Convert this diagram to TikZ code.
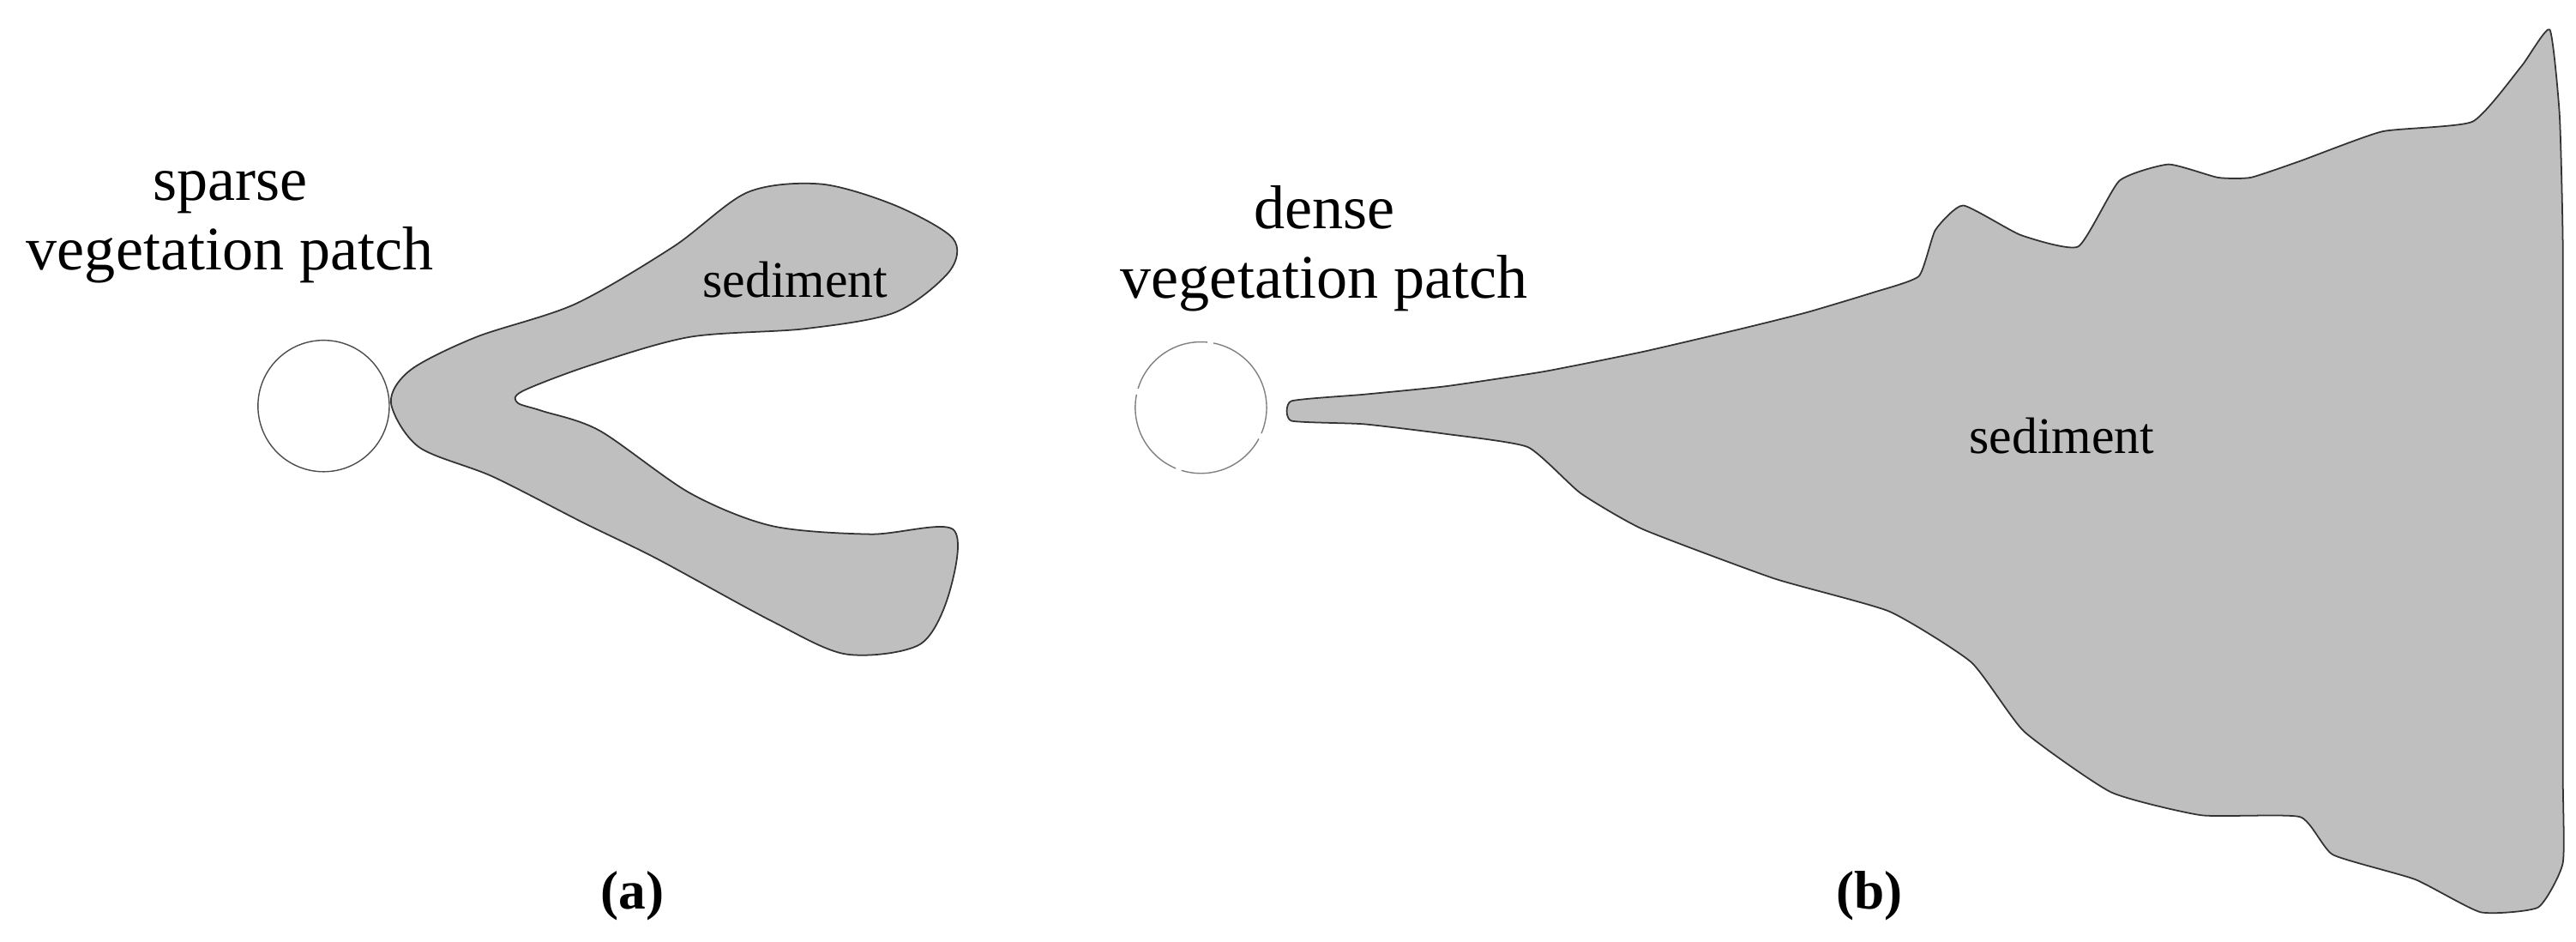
\documentclass[tikz,border=0pt]{standalone}
\usepackage{fontspec}
\setmainfont{Liberation Serif}
\begin{document}
\begin{tikzpicture}[x=0.01913cm,y=-0.01913cm,
 lbl/.style={font=\fontsize{20.5}{23}\selectfont,align=center},
 sed/.style={font=\fontsize{17}{19}\selectfont},
 captxt/.style={font=\bfseries\fontsize{18}{20}\selectfont},
 sedfill/.style={fill=black!25,draw=black!80,line width=0.5pt}]
\useasboundingbox (0,0) rectangle (1568,573);
% (a)
\node[circle,draw=black!70,inner sep=0pt,minimum size=1.53cm] (pa) at (197,247) {};
\draw[sedfill] plot[smooth cycle,tension=0.5] coordinates{
 (238,245) (250,225) (290,205) (350,185) (410,150) (455,117) (500,112) (545,125) (580,145)
 (578,165) (545,190) (490,200) (420,205) (360,222) (318,238) (315,245) (330,250) (365,262)
 (420,300) (470,320) (530,325) (580,322) (578,360) (560,392) (515,398) (470,378) (400,340)
 (355,318) (300,290) (255,272)};
\node[sed] (sa) at (484,170) {sediment};
\node[lbl] (ta) at (140,138) {sparse\\vegetation patch};
\node[captxt] (ca) at (385,545) {(a)};
% (b)
\node[circle,draw=black!50,dashed,dash pattern=on 30pt off 2pt,inner sep=0pt,minimum size=1.53cm] (pb) at (731,248) {};
\draw[sedfill] plot[smooth cycle,tension=0.3] coordinates{
 (786,244) (830,240) (880,235) (940,226) (1000,214) (1060,200) (1100,190) (1140,178) (1168,168)
 (1178,140) (1195,125) (1230,143) (1265,150) (1290,110) (1320,100) (1350,108) (1370,108) (1400,98)
 (1450,80) (1505,74) (1535,40) (1552,18) (1558,70) (1560,150) (1560,300) (1560,470) (1560,525)
 (1545,552) (1510,555) (1470,535) (1420,520) (1400,497) (1340,496) (1285,482) (1232,445) (1200,403)
 (1150,372) (1080,352) (1000,322) (962,300) (930,272) (880,264) (830,258) (786,256)};
\node[sed] (sb) at (1255,265) {sediment};
\node[lbl] (tb) at (806,151) {dense\\vegetation patch};
\node[captxt] (cb) at (1138,545) {(b)};
\end{tikzpicture}
\end{document}
